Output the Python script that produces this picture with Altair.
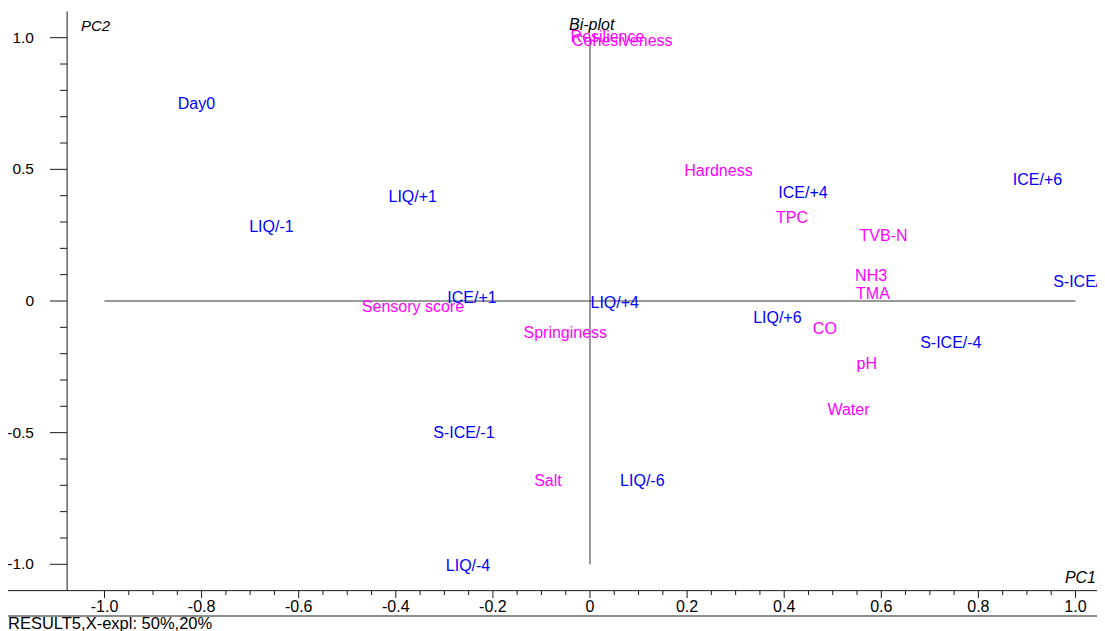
import altair as alt
import pandas as pd

# ---- data ----
obj_names = ["Day0", "LIQ/+1", "LIQ/-1", "ICE/+1", "LIQ/+4", "S-ICE/-1", "LIQ/-6",
             "LIQ/-4", "ICE/+4", "ICE/+6", "S-ICE/-", "LIQ/+6", "S-ICE/-4"]
obj_pc1 = [-0.849, -0.415, -0.702, -0.294, 0.001, -0.323, 0.062,
           -0.297, 0.388, 0.871, 0.954, 0.336, 0.680]
obj_pc2 = [0.750, 0.396, 0.282, 0.010, -0.006, -0.500, -0.682,
           -1.005, 0.411, 0.460, 0.072, -0.063, -0.158]

var_names = ["Hardness", "TPC", "TVB-N", "NH3", "TMA", "CO", "pH", "Water",
             "Sensory score", "Springiness", "Salt", "Resilience", "Cohesiveness"]
var_pc1 = [0.194, 0.383, 0.555, 0.546, 0.548, 0.459, 0.549, 0.489,
           -0.470, -0.137, -0.115, -0.040, -0.037]
var_pc2 = [0.495, 0.316, 0.247, 0.096, 0.025, -0.105, -0.239, -0.414,
           -0.022, -0.120, -0.682, 1.001, 0.988]

x_major = [-1.0, -0.8, -0.6, -0.4, -0.2, 0.0, 0.2, 0.4, 0.6, 0.8, 1.0]
x_major_labels = ["-1.0", "-0.8", "-0.6", "-0.4", "-0.2", "0", "0.2", "0.4", "0.6", "0.8", "1.0"]
x_minor = [-0.95, -0.9, -0.85, -0.75, -0.7, -0.65, -0.55, -0.5, -0.45, -0.35, -0.3, -0.25,
           -0.15, -0.1, -0.05, 0.05, 0.1, 0.15, 0.25, 0.3, 0.35, 0.45, 0.5, 0.55,
           0.65, 0.7, 0.75, 0.85, 0.9, 0.95]
y_major = [-1.0, -0.5, 0.0, 0.5, 1.0]
y_major_labels = ["-1.0", "-0.5", "0", "0.5", "1.0"]
y_minor = [-0.9, -0.8, -0.7, -0.6, -0.4, -0.3, -0.2, -0.1, 0.1, 0.2, 0.3, 0.4, 0.6, 0.7, 0.8, 0.9]

y_axis_at = -1.077      # PC1 value where the PC2 axis line sits
x_axis_at = -1.1        # PC2 value where the PC1 axis line sits
axis_span = [-1.1, 1.1]

footer_text = "RESULT5,X-expl: 50%,20%"

# ---- layout ----
W, H = 1089, 623
FONT = "Liberation Sans"
XS = alt.Scale(domain=[-1.19876, 1.04429], nice=False, zero=False)
YS = alt.Scale(domain=[-1.25332, 1.1128], nice=False, zero=False)
AX = "#1a1a1a"


def X(f):
    return alt.X(f, type="quantitative", scale=XS, axis=None)


def Y(f):
    return alt.Y(f, type="quantitative", scale=YS, axis=None)


objs = pd.DataFrame({"name": obj_names, "pc1": obj_pc1, "pc2": obj_pc2})
vars_ = pd.DataFrame({"name": var_names, "pc1": var_pc1, "pc2": var_pc2})

# cross lines through origin
hline = alt.Chart(pd.DataFrame({"x": [-1.0], "x2": [1.0], "y": [0.0]})).mark_rule(
    color="#333333", strokeWidth=1).encode(x=X("x"), x2="x2", y=Y("y"))
vline = alt.Chart(pd.DataFrame({"y": [-1.0], "y2": [1.0], "x": [0.0]})).mark_rule(
    color="#333333", strokeWidth=1).encode(y=Y("y"), y2="y2", x=X("x"))

# axis lines
yaxis_line = alt.Chart(pd.DataFrame({"x": [y_axis_at], "y": [axis_span[0]], "y2": [axis_span[1]]})).mark_rule(
    color=AX, strokeWidth=1).encode(x=X("x"), y=Y("y"), y2="y2")
xaxis_line = alt.Chart(pd.DataFrame({"y": [x_axis_at]})).mark_rule(
    color=AX, strokeWidth=1).encode(y=Y("y"), x=alt.value(0), x2=alt.value(W))
sep_line = alt.Chart(pd.DataFrame({"y": [0]})).mark_rule(
    color=AX, strokeWidth=1).encode(y=alt.value(608), x=alt.value(0), x2=alt.value(W))

# y ticks
ymaj = pd.DataFrame({"v": y_major, "lab": y_major_labels})
ymin = pd.DataFrame({"v": y_minor})
ymaj_ticks = alt.Chart(ymaj).mark_rule(color=AX).encode(
    y=Y("v"), x=alt.value(42), x2=alt.value(59))
ymin_ticks = alt.Chart(ymin).mark_rule(color=AX).encode(
    y=Y("v"), x=alt.value(52), x2=alt.value(59))
ymaj_labels = alt.Chart(ymaj).mark_text(
    align="right", baseline="middle", font=FONT, fontSize=15.5, color="black").encode(
    y=Y("v"), x=alt.value(26), text="lab:N")

# x ticks
xmaj = pd.DataFrame({"v": x_major, "lab": x_major_labels})
xmin = pd.DataFrame({"v": x_minor})
xmaj_ticks = alt.Chart(xmaj).mark_rule(color=AX).encode(
    x=X("v"), y=alt.value(583), y2=alt.value(590))
xmin_ticks = alt.Chart(xmin).mark_rule(color=AX).encode(
    x=X("v"), y=alt.value(583), y2=alt.value(587))
xmaj_labels = alt.Chart(xmaj).mark_text(
    align="center", baseline="middle", font=FONT, fontSize=16, color="black").encode(
    x=X("v"), y=alt.value(599), text="lab:N")

# point labels
obj_text = alt.Chart(objs).mark_text(
    align="left", baseline="middle", font=FONT, fontSize=16, color="#0000ff").encode(
    x=X("pc1"), y=Y("pc2"), text="name:N")
var_text = alt.Chart(vars_).mark_text(
    align="left", baseline="middle", font=FONT, fontSize=16, color="#ff00ff").encode(
    x=X("pc1"), y=Y("pc2"), text="name:N")

# titles
titles = pd.DataFrame({"t": ["PC2", "Bi-plot", "PC1"]})
t_pc2 = alt.Chart(titles.iloc[[0]]).mark_text(
    align="left", baseline="middle", font=FONT, fontSize=15, fontStyle="italic", color="black").encode(
    x=alt.value(73), y=alt.value(18), text="t:N")
t_bi = alt.Chart(titles.iloc[[1]]).mark_text(
    align="left", baseline="middle", font=FONT, fontSize=16, fontStyle="italic", color="black").encode(
    x=alt.value(561), y=alt.value(17), text="t:N")
t_pc1 = alt.Chart(titles.iloc[[2]]).mark_text(
    align="right", baseline="middle", font=FONT, fontSize=16, fontStyle="italic", color="black").encode(
    x=alt.value(1088), y=alt.value(570), text="t:N")
footer = alt.Chart(pd.DataFrame({"t": [footer_text]})).mark_text(
    align="left", baseline="alphabetic", font=FONT, fontSize=16.5, color="black").encode(
    x=alt.value(0), y=alt.value(621), text="t:N")

chart = alt.layer(
    hline, vline, yaxis_line, xaxis_line, sep_line,
    ymaj_ticks, ymin_ticks, ymaj_labels,
    xmaj_ticks, xmin_ticks, xmaj_labels,
    var_text, obj_text,
    t_pc2, t_bi, t_pc1, footer,
).properties(
    width=W, height=H, padding=0,
    autosize=alt.AutoSizeParams(type="none"),
    background="white",
).configure_view(stroke=None)

chart.save("out.html", embed_options={"renderer": "svg", "actions": False})
